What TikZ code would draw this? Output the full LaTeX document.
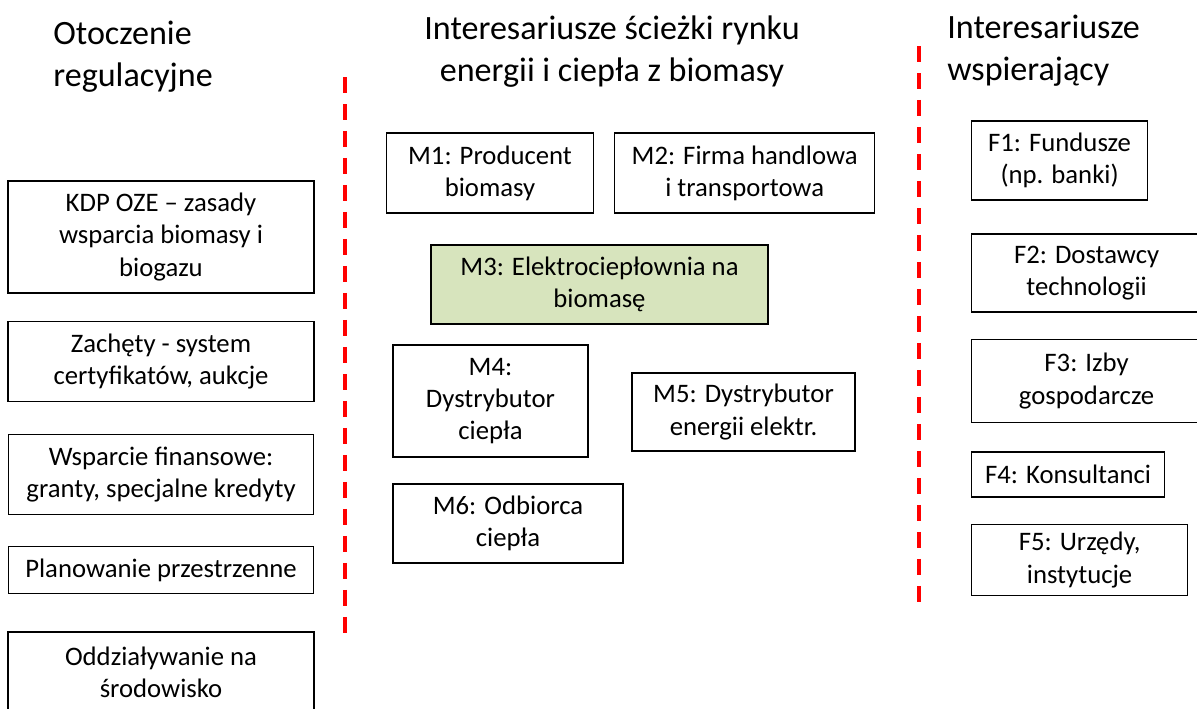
\documentclass[tikz,border=0pt]{standalone}
\usepackage{fontspec}
\setmainfont{Carlito}
\usepackage{xcolor}
\usepackage{tikz}
\usetikzlibrary{positioning}

\definecolor{chpgreen}{HTML}{D7E4BD}

\begin{document}
\begin{tikzpicture}[
    x=0.02cm, y=-0.02cm,
    node distance=0.6cm and 0.32cm,
    box/.style={rectangle, draw, line width=0.7pt, align=center, inner sep=2pt, font=\fontsize{15.2}{18.3}\selectfont},
    chp/.style={box, fill=chpgreen},
    header/.style={font=\fontsize{19.4}{23.9}\selectfont, inner sep=0pt},
    divider/.style={red, line width=2.3pt, dash pattern=on 0.32cm off 0.22cm}
]
\useasboundingbox (0,0) rectangle (1197,708);

% Otoczenie regulacyjne (left column)
\node[box, minimum width=6.12cm, minimum height=2.24cm] (kdp) at (161,237) {KDP OZE -- zasady\\wsparcia biomasy i\\biogazu};
\node[box, minimum width=6.12cm, minimum height=1.6cm, below=0.54cm of kdp] (zachety) {Zachęty - system\\certyfikatów, aukcje};
\node[box, minimum width=6.1cm, minimum height=1.6cm, below=0.64cm of zachety] (wsparcie) {Wsparcie finansowe:\\granty, specjalne kredyty};
\node[box, minimum width=6.1cm, minimum height=0.94cm, below=0.62cm of wsparcie] (plan) {Planowanie przestrzenne};
\node[box, minimum width=6.12cm, minimum height=1.6cm] (srod) at (161,672) {Oddziaływanie na\\środowisko};

% Interesariusze rynku (middle column)
\node[box, minimum width=4.14cm, minimum height=1.6cm] (m1) at (490,173) {M1: Producent\\biomasy};
\node[box, minimum width=5.2cm, minimum height=1.6cm, right=0.4cm of m1] (m2) {M2: Firma handlowa\\i transportowa};
\node[chp, minimum width=6.74cm, minimum height=1.58cm] (m3) at (599.5,284.5) {M3: Elektrociepłownia na\\biomasę};
\node[box, minimum width=3.9cm, minimum height=2.24cm] (m4) at (490.5,401) {M4:\\Dystrybutor\\ciepła};
\node[box, minimum width=4.46cm, minimum height=1.56cm] (m5) at (743.5,412) {M5: Dystrybutor\\energii elektr.};
\node[box, minimum width=4.6cm, minimum height=1.58cm] (m6) at (508,523.5) {M6: Odbiorca\\ciepła};

% Interesariusze wspierajacy (right column)
\node[box, anchor=west, minimum width=3.52cm, minimum height=1.58cm] (f1) at (971,160.5) {F1: Fundusze\\(np. banki)};
\node[box, anchor=west, minimum width=4.6cm, minimum height=1.56cm] (f2) at (971,273) {F2: Dostawcy\\technologii};
\node[box, anchor=west, minimum width=4.6cm, minimum height=1.66cm] (f3) at (971,381) {F3: Izby\\gospodarcze};
\node[box, anchor=west, minimum width=3.86cm, minimum height=0.9cm] (f4) at (971,474.5) {F4: Konsultanci};
\node[box, anchor=west, minimum width=4.32cm, minimum height=1.42cm] (f5) at (971,560) {F5: Urzędy,\\instytucje};

% Column headers
\node[header, anchor=west, align=left] (h1) at (53,57) {Otoczenie\\regulacyjne};
\node[header, align=center] (h2) at (612,52) {Interesariusze ścieżki rynku\\energii i ciepła z biomasy};
\node[header, anchor=west, align=left] (h3) at (947,51) {Interesariusze\\wspierający};

% Dividers
\coordinate (d1top) at (345,77);
\coordinate (d1bot) at (345,635);
\coordinate (d2top) at (919,46);
\coordinate (d2bot) at (919,606);
\draw[divider] (d1top) -- (d1bot);
\draw[divider] (d2top) -- (d2bot);

\end{tikzpicture}
\end{document}
